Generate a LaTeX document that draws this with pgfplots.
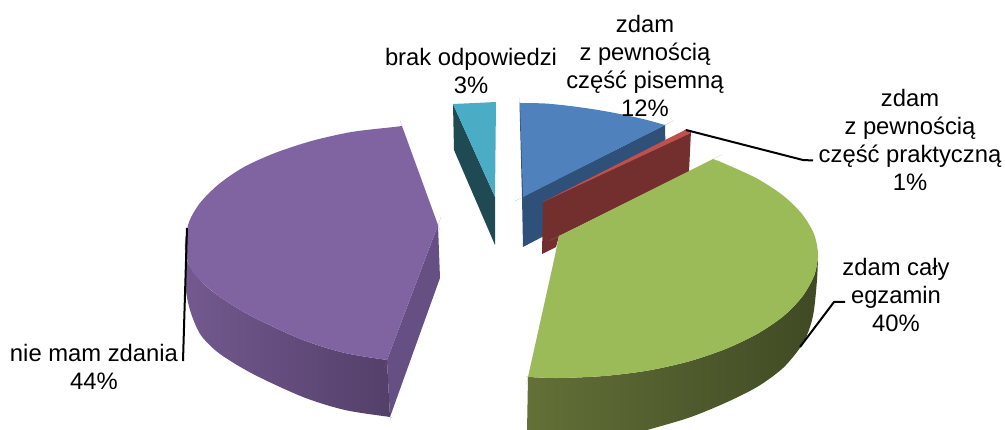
\documentclass[border=0pt]{standalone}
\usepackage{fontspec}
\setmainfont{Liberation Sans}
\usepackage{pgfplots}
\pgfplotsset{compat=1.18}
\definecolor{cBlue}{HTML}{4F81BD}
\definecolor{cBlueD}{HTML}{2F5078}
\definecolor{cRed}{HTML}{C0504D}
\definecolor{cRedD}{HTML}{722F2E}
\definecolor{cGreen}{HTML}{9BBB59}
\definecolor{cGreenL}{HTML}{657238}
\definecolor{cGreenD}{HTML}{3F4A24}
\definecolor{cPurple}{HTML}{8064A2}
\definecolor{cPurpleS}{HTML}{664F82}
\definecolor{cPurpleL}{HTML}{73598F}
\definecolor{cPurpleD}{HTML}{523F68}
\definecolor{cCyan}{HTML}{4BACC6}
\definecolor{cCyanD}{HTML}{1F4A54}
\tikzset{lab/.style={font=\fontsize{23.8}{28}\selectfont,align=center,text=black,inner sep=0pt}}
\begin{document}
\begin{tikzpicture}
\begin{axis}[
  name=a,
  width=1005pt,height=430pt,scale only axis,
  xmin=0,xmax=1005,ymin=0,ymax=430,y dir=reverse,
  hide axis,clip=true
]
% blue
\addplot[fill=cBlueD,draw=none] coordinates {(522,197)(665,125)(666,172)(523,247)} --cycle;
\addplot[fill=cBlueD,draw=none] coordinates {(519.5,103)(521,103)(523.5,197)(522,197)} --cycle;
\addplot[fill=cBlue,draw=none,smooth] coordinates {(520,103)(520,103)(520,103)(545,103.5)(570,106)(595,109.5)(620,114)(645,119.5)(665,125)(665,125)(665,125)(523,197)(523,197)(523,197)(520,103)(520,103)} --cycle;
% red
\addplot[fill=cRedD,draw=none] coordinates {(543,202)(691,131)(689,172)(559,236)(556,247)(542,254)} --cycle;
\addplot[fill=cRed,draw=none] coordinates {(543,202)(683,131)(686,129)(691,133)} --cycle;
% green
\addplot[left color=cGreenL,middle color=cGreenD,right color=cGreenD,draw=none,smooth] coordinates {(528,377)(528,377)(528,377)(559,378)(604,376)(647.6,370.6)(688.5,361.5)(725.5,349)(757,334)(783,316.5)(802,297)(814,276)(818,258)(818,258)(818,258)(817,280)(814,310)(810,327)(802,345)(783,368)(757,387)(725,403)(688,418)(640,432)(640,432)(640,432)(527,432)(527,432)(527,432)} --cycle;
\addplot[fill=cGreen,draw=none,smooth] coordinates {(713,159)(713,159)(713,159)(725.5,164)(757,178.5)(783,195.5)(802,214)(814,234)(818,255)(814,276)(802,297)(783,316.5)(757,334)(725.5,349)(688.5,361.5)(647.6,370.6)(604,376)(559,378)(528,377)(528,377)(528,377)(554,260)(554,260)(554,260)(559,236)(559,236)(559,236)(713,159)(713,159)} --cycle;
% purple
\addplot[fill=cPurpleS,draw=none] coordinates {(438,225)(440,278)(390,417)(387,360)} --cycle;
\addplot[left color=cPurpleL,right color=cPurpleD,draw=none,smooth] coordinates {(185,250)(185,250)(185,250)(189,265)(203,283)(220,297)(253,317)(303,340)(345,353)(387,360)(387,360)(387,360)(390,417)(390,417)(390,417)(345,410)(303,397)(253,374)(220,354)(203,338)(196,326)(190,310)(186,290)(185,250)(185,250)} --cycle;
\addplot[fill=cPurple,draw=none,smooth] coordinates {(402,126)(402,126)(402,126)(394,127)(351.5,132)(311.5,141)(275,153)(244,167)(219,184)(200,203)(189,222)(185,243)(186,253)(189,265)(195,275)(203,283)(220,297)(253,317)(303,340)(345,353)(387,360)(387,360)(387,360)(438,225)(438,225)(438,225)(402,126)(402,126)} --cycle;
% cyan
\addplot[fill=cCyanD,draw=none] coordinates {(453,104)(495,197)(495,245)(454,150)} --cycle;
\addplot[fill=cCyan,draw=none] coordinates {(453,104)(475,103)(496,102)(495,197)} --cycle;
% leaders
\addplot[black,line width=2pt] coordinates {(686,130)(803,160)(813,160.5)};
\addplot[black,line width=2pt] coordinates {(800,347)(834,302)(845,302)};
\addplot[black,line width=2pt] coordinates {(187,228)(183,361)};
% labels
\node[lab] at (axis cs:471,71) {brak odpowiedzi\\3\%};
\node[lab] at (axis cs:645,66) {zdam\\z pewnością\\część pisemną\\12\%};
\node[lab] at (axis cs:910,140) {zdam\\z pewnością\\część praktyczną\\1\%};
\node[lab] at (axis cs:896,295) {zdam cały\\egzamin\\40\%};
\node[lab] at (axis cs:94,367) {nie mam zdania\\44\%};
\end{axis}
\useasboundingbox (a.south west) rectangle (a.north east);
\end{tikzpicture}
\end{document}
